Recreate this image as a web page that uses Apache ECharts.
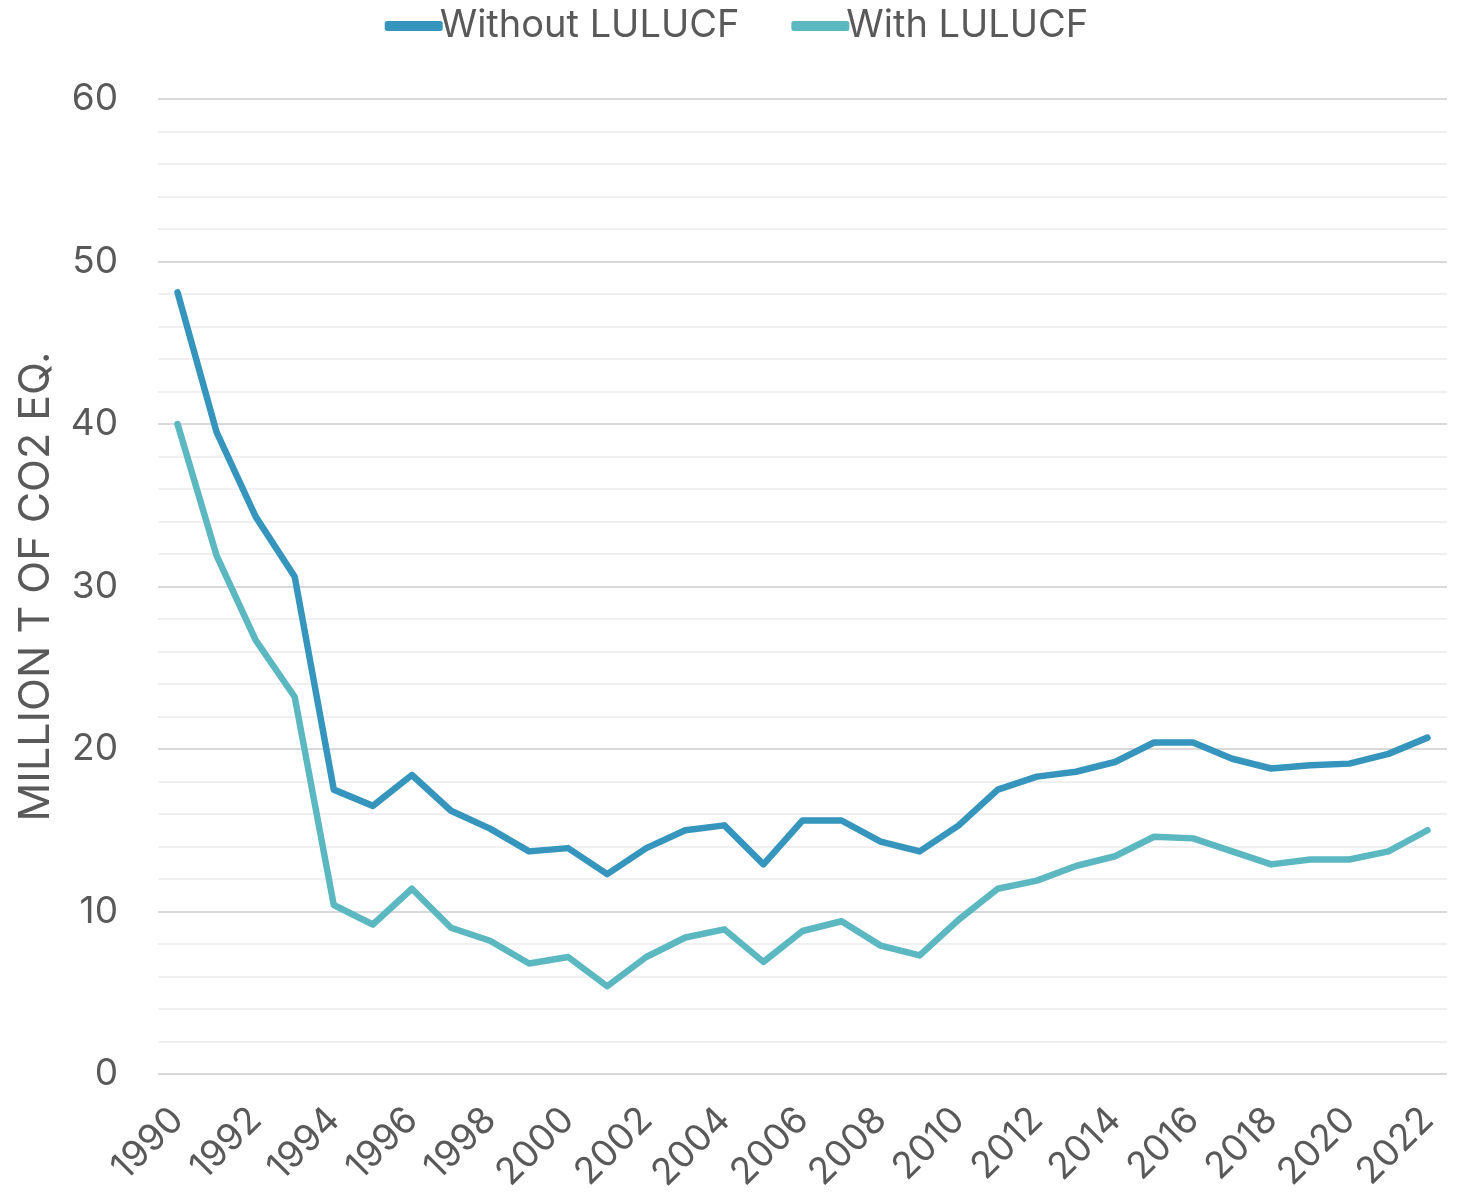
<!DOCTYPE html>
<html>
<head>
<meta charset="utf-8">
<title>Emissions</title>
<script src="https://cdn.jsdelivr.net/npm/echarts@6/dist/echarts.min.js"></script>
<style>
  html, body { margin: 0; padding: 0; background: #fff; }
  #chart { width: 1473px; height: 1203px; }
</style>
</head>
<body>
<div id="chart"></div>
<script>
// years on the x axis
const years = []
for (let y = 1990; y <= 2022; y++) years.push(String(y))

// million t of CO2 eq.
const withoutLulucf = [
  48.1, 39.5, 34.3, 30.6, 17.5, 16.5, 18.4, 16.2, 15.1, 13.7,
  13.9, 12.3, 13.9, 15.0, 15.3, 12.9, 15.6, 15.6, 14.3, 13.7,
  15.3, 17.5, 18.3, 18.6, 19.2, 20.4, 20.4, 19.4, 18.8, 19.0,
  19.1, 19.7, 20.7
]
const withLulucf = [
  40.0, 31.9, 26.7, 23.2, 10.4, 9.2, 11.4, 9.0, 8.2, 6.8,
  7.2, 5.4, 7.2, 8.4, 8.9, 6.9, 8.8, 9.4, 7.9, 7.3,
  9.5, 11.4, 11.9, 12.8, 13.4, 14.6, 14.5, 13.7, 12.9, 13.2,
  13.2, 13.7, 15.0
]

const textColor = '#595959'
const font = 'Inter, "Open Sans", sans-serif'

const chart = echarts.init(document.getElementById('chart'))
chart.setOption({
  animation: false,
  textStyle: { fontFamily: font },
  legend: {
    top: 2,
    left: 'center',
    itemGap: 52,
    itemWidth: 58,
    itemHeight: 10,
    icon: 'roundRect',
    textStyle: { fontSize: 38, color: textColor, fontFamily: font, padding: [0, 0, 0, -8] },
    data: ['Without LULUCF', 'With LULUCF']
  },
  grid: { left: 158, right: 26, top: 99, bottom: 129 },
  xAxis: {
    type: 'category',
    data: years,
    boundaryGap: true,
    axisLine: { show: false },
    axisTick: { show: false },
    axisLabel: {
      interval: 1,
      rotate: 45,
      fontSize: 37,
      color: textColor,
      margin: 40
    }
  },
  yAxis: {
    type: 'value',
    min: 0,
    max: 60,
    interval: 10,
    name: 'MILLION T OF CO2 EQ.',
    nameLocation: 'middle',
    nameGap: 100,
    nameTextStyle: { fontSize: 43, color: textColor },
    axisLabel: { fontSize: 37, color: textColor, margin: 40 },
    axisLine: { show: false },
    axisTick: { show: false },
    splitLine: { lineStyle: { color: '#d9d9d9', width: 2 } },
    minorTick: { show: false, splitNumber: 5 },
    minorSplitLine: { show: true, lineStyle: { color: '#f0f0f0', width: 2 } }
  },
  series: [
    {
      name: 'Without LULUCF',
      type: 'line',
      data: withoutLulucf,
      symbol: 'none',
      color: '#3595bc',
      lineStyle: { width: 6.5, cap: 'round', join: 'round' }
    },
    {
      name: 'With LULUCF',
      type: 'line',
      data: withLulucf,
      symbol: 'none',
      color: '#5bb8c0',
      lineStyle: { width: 6.5, cap: 'round', join: 'round' }
    }
  ]
})

window.addEventListener('resize', () => {
  chart.resize()
})
</script>
</body>
</html>
